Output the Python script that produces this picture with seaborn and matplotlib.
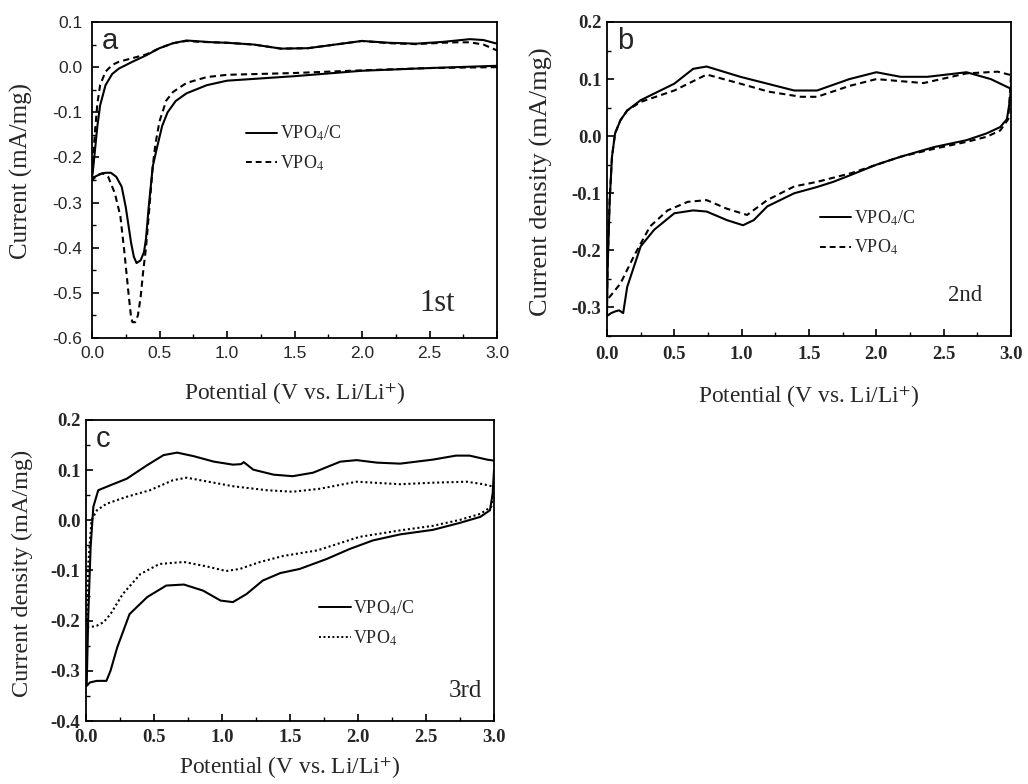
import numpy as np
import pandas as pd
import matplotlib
matplotlib.use("Agg")
import matplotlib.pyplot as plt
import seaborn as sns
from matplotlib.ticker import MultipleLocator, FormatStrFormatter

# ---------------- data ----------------
# Panel a, 1st cycle: closed loop = cathodic (3.0 -> 0) then anodic (0 -> 3.0)
a_c_x = [3.0, 2.5, 2.0, 1.5, 1.0, 0.85, 0.7, 0.62, 0.56, 0.52, 0.48, 0.45, 0.42, 0.40, 0.385, 0.36, 0.33, 0.31,
         0.29, 0.27, 0.25, 0.22, 0.18, 0.14, 0.10, 0.07, 0.04, 0.02, 0.0,
         0.0, 0.01, 0.02, 0.04, 0.06, 0.1, 0.15, 0.2, 0.3, 0.4, 0.5, 0.6, 0.7, 0.8, 0.9, 1.0, 1.2, 1.4,
         1.6, 1.8, 2.0, 2.2, 2.4, 2.6, 2.8, 2.9, 3.0]
a_c_y = [0.003, -0.002, -0.008, -0.02, -0.03, -0.04, -0.058, -0.075, -0.1, -0.13, -0.18, -0.22, -0.31, -0.38,
         -0.41, -0.428, -0.434, -0.42, -0.39, -0.35, -0.31, -0.265, -0.243, -0.234, -0.234, -0.236, -0.24,
         -0.243, -0.245,
         -0.245, -0.22, -0.19, -0.13, -0.085, -0.04, -0.015, -0.003, 0.012, 0.026, 0.042, 0.053, 0.059,
         0.057, 0.055, 0.054, 0.05, 0.041, 0.042, 0.05, 0.058, 0.054, 0.052, 0.056, 0.062, 0.06, 0.052]
a_p_x = [3.0, 2.5, 2.0, 1.5, 1.0, 0.85, 0.7, 0.6, 0.55, 0.5, 0.47, 0.45, 0.42, 0.40, 0.38, 0.36, 0.34,
         0.32, 0.30, 0.29, 0.27, 0.24, 0.21, 0.17, 0.12, 0.08, 0.05, 0.02, 0.0,
         0.0, 0.01, 0.02, 0.04, 0.06, 0.1, 0.15, 0.2, 0.3, 0.4, 0.5, 0.6, 0.7, 0.8, 0.9, 1.0, 1.2, 1.4,
         1.6, 1.8, 2.0, 2.2, 2.4, 2.6, 2.7, 2.8, 2.9, 3.0]
a_p_y = [0.0, -0.002, -0.007, -0.013, -0.017, -0.022, -0.035, -0.055, -0.074, -0.12, -0.17, -0.22, -0.33,
         -0.40, -0.45, -0.51, -0.55, -0.565, -0.565, -0.555, -0.5, -0.41, -0.33, -0.28, -0.243, -0.235,
         -0.238, -0.245, -0.25,
         -0.25, -0.2, -0.15, -0.08, -0.04, -0.01, 0.005, 0.012, 0.02, 0.028, 0.042, 0.053, 0.058, 0.056,
         0.055, 0.054, 0.05, 0.041, 0.042, 0.05, 0.058, 0.053, 0.051, 0.054, 0.055, 0.055, 0.05, 0.037]

# Panel b, 2nd cycle
b_c_x = [3.0, 2.99, 2.97, 2.92, 2.82, 2.67, 2.43, 2.18, 2.0, 1.81, 1.68, 1.56, 1.39, 1.19, 1.09, 1.01,
         0.89, 0.74, 0.64, 0.5, 0.35, 0.25, 0.15, 0.12, 0.09, 0.06, 0.03, 0.0,
         0.0, 0.005, 0.02, 0.037, 0.06, 0.1, 0.15, 0.25, 0.5, 0.64, 0.74, 0.99, 1.19, 1.39, 1.56, 1.8,
         2.0, 2.18, 2.38, 2.67, 2.85, 3.0]
b_c_y = [0.083, 0.06, 0.03, 0.016, 0.005, -0.007, -0.019, -0.036, -0.05, -0.068, -0.08, -0.089, -0.1,
         -0.123, -0.147, -0.156, -0.147, -0.132, -0.13, -0.135, -0.164, -0.193, -0.264, -0.31, -0.305,
         -0.307, -0.31, -0.315,
         -0.315, -0.23, -0.112, -0.036, 0.005, 0.028, 0.045, 0.063, 0.092, 0.118, 0.122, 0.104, 0.092,
         0.08, 0.08, 0.1, 0.112, 0.104, 0.104, 0.112, 0.1, 0.083]
b_p_x = [3.0, 2.98, 2.92, 2.82, 2.67, 2.43, 2.18, 2.0, 1.81, 1.56, 1.39, 1.19, 1.04, 0.89, 0.74, 0.6,
         0.45, 0.32, 0.2, 0.1, 0.025, 0.0,
         0.0, 0.005, 0.02, 0.037, 0.06, 0.1, 0.15, 0.25, 0.5, 0.74, 0.99, 1.2, 1.44, 1.56, 1.8, 2.0,
         2.35, 2.67, 2.9, 3.0]
b_p_y = [0.105, 0.03, 0.01, -0.001, -0.01, -0.022, -0.036, -0.05, -0.065, -0.08, -0.088, -0.112, -0.138,
         -0.127, -0.112, -0.115, -0.13, -0.158, -0.21, -0.258, -0.28, -0.287,
         -0.287, -0.22, -0.11, -0.036, 0.005, 0.028, 0.045, 0.06, 0.08, 0.108, 0.092, 0.078, 0.069,
         0.069, 0.088, 0.1, 0.093, 0.11, 0.113, 0.107]

# Panel c, 3rd cycle
c_c_x = [3.0, 2.99, 2.97, 2.9, 2.75, 2.55, 2.31, 2.11, 1.94, 1.77, 1.57, 1.43, 1.3, 1.18, 1.08, 0.99,
         0.86, 0.72, 0.59, 0.45, 0.32, 0.23, 0.18, 0.15, 0.08, 0.03, 0.005,
         0.005, 0.017, 0.034, 0.054, 0.09, 0.18, 0.3, 0.45, 0.57, 0.67, 0.79, 0.94, 1.08, 1.14, 1.16,
         1.23, 1.38, 1.52, 1.67, 1.87, 1.99, 2.14, 2.31, 2.55, 2.72, 2.82, 2.95, 3.0]
c_c_y = [0.1, 0.053, 0.02, 0.007, -0.005, -0.019, -0.028, -0.04, -0.057, -0.077, -0.097, -0.105, -0.12,
         -0.147, -0.163, -0.16, -0.14, -0.128, -0.13, -0.153, -0.187, -0.253, -0.3, -0.32, -0.32,
         -0.323, -0.33,
         -0.33, -0.187, -0.053, 0.027, 0.06, 0.07, 0.083, 0.11, 0.13, 0.135, 0.128, 0.117, 0.111,
         0.112, 0.116, 0.101, 0.091, 0.088, 0.095, 0.117, 0.12, 0.115, 0.113, 0.121, 0.129, 0.129,
         0.121, 0.119]
c_p_x = [3.0, 2.98, 2.9, 2.75, 2.55, 2.31, 2.01, 1.7, 1.45, 1.28, 1.13, 1.03, 0.89, 0.72, 0.54, 0.4,
         0.27, 0.18, 0.13, 0.08, 0.03, 0.005,
         0.005, 0.017, 0.04, 0.08, 0.15, 0.3, 0.47, 0.64, 0.74, 0.84, 1.08, 1.33, 1.52, 1.72, 1.99,
         2.31, 2.55, 2.8, 2.92, 3.0]
c_p_y = [0.067, 0.027, 0.013, 0.001, -0.011, -0.02, -0.033, -0.06, -0.071, -0.083, -0.097, -0.101,
         -0.092, -0.083, -0.087, -0.107, -0.147, -0.187, -0.203, -0.21, -0.213, -0.213,
         -0.213, -0.087, 0.0, 0.02, 0.033, 0.047, 0.06, 0.08, 0.085, 0.08, 0.068, 0.06, 0.057, 0.063,
         0.077, 0.072, 0.075, 0.077, 0.072, 0.067]

series_labels = ["VPO$_4$/C", "VPO$_4$"]
panel_letters = ["a", "b", "c"]
cycle_labels = ["1st", "2nd", "3rd"]
ylabels = ["Current (mA/mg)", "Current density (mA/mg)", "Current density (mA/mg)"]
xlabel = "Potential (V vs. Li/Li$^{+}$)"

# ---------------- style ----------------
sns.set_style("ticks")
plt.rcParams["font.family"] = ["Liberation Serif", "DejaVu Serif"]
plt.rcParams["mathtext.fontset"] = "stix"
plt.rcParams["axes.unicode_minus"] = False

fig = plt.figure(figsize=(10.28, 7.84), dpi=100)
ax_a = fig.add_axes([92/1028, 1-338/784, 405/1028, 316/784])
ax_b = fig.add_axes([607/1028, 1-336/784, 404/1028, 314/784])
ax_c = fig.add_axes([86/1028, 1-721/784, 408/1028, 301/784])

panels = [
    (ax_a, a_c_x, a_c_y, a_p_x, a_p_y, (-0.6, 0.1), (3, 2)),
    (ax_b, b_c_x, b_c_y, b_p_x, b_p_y, (-0.35, 0.2), (3, 2)),
    (ax_c, c_c_x, c_c_y, c_p_x, c_p_y, (-0.4, 0.2), (1, 1.3)),
]

ylabel_sizes = [18, 19, 17.5]
ylabel_coords = [(-0.146, 0.53), (-0.134, 0.49), (-0.13, 0.49)]

for i, (ax, cx, cy, px, py, ylim, dash2) in enumerate(panels):
    sns.lineplot(x=cx, y=cy, ax=ax, sort=False, estimator=None, color="black", lw=1.5,
                 label=series_labels[0])
    sns.lineplot(x=px, y=py, ax=ax, sort=False, estimator=None, color="black", lw=1.5,
                 dashes=dash2, label=series_labels[1])
    ax.lines[-1].set_dashes(dash2)
    ax.set_xlim(0, 3.0)
    ax.set_ylim(*ylim)
    ax.xaxis.set_major_locator(MultipleLocator(0.5))
    ax.xaxis.set_minor_locator(MultipleLocator(0.25))
    ax.yaxis.set_major_locator(MultipleLocator(0.1))
    ax.yaxis.set_minor_locator(MultipleLocator(0.05))
    ax.tick_params(which="both", direction="in", top=False, right=False, color="black")
    ax.tick_params(which="major", length=5, width=1.2)
    ax.tick_params(which="minor", length=3, width=1.0)
    for sp in ax.spines.values():
        sp.set_visible(True)
        sp.set_linewidth(1.3)
        sp.set_color("black")
    ax.xaxis.set_major_formatter(FormatStrFormatter("%.1f"))
    ax.yaxis.set_major_formatter(FormatStrFormatter("%.1f"))
    if i == 0:
        for lab in ax.get_xticklabels() + ax.get_yticklabels():
            lab.set_fontfamily("Liberation Sans")
            lab.set_fontsize(12.5)
        ax.tick_params(axis="x", which="major", pad=6)
        ax.tick_params(axis="y", which="major", pad=7)
    else:
        for lab in ax.get_xticklabels() + ax.get_yticklabels():
            lab.set_fontfamily("Liberation Serif")
            lab.set_fontweight("bold")
            lab.set_fontsize(13.5)
        ax.tick_params(axis="x", which="major", pad=7 if i == 1 else 6)
        ax.tick_params(axis="y", which="major", pad=4)
    ax.set_ylabel(ylabels[i], fontsize=ylabel_sizes[i])
    ax.yaxis.set_label_coords(*ylabel_coords[i])
    ax.text(0.025, 0.985, panel_letters[i], transform=ax.transAxes, fontsize=21,
            family="Liberation Sans", va="top", ha="left")

# axis labels
ax_a.set_xlabel(xlabel, fontsize=16.8, labelpad=14)
ax_b.set_xlabel(xlabel, fontsize=16.8, labelpad=15)
ax_c.set_xlabel(xlabel, fontsize=16.8, labelpad=6)

# cycle labels
ax_a.text(0.896, 0.11, cycle_labels[0], transform=ax_a.transAxes, fontsize=22, ha="right", va="center")
ax_b.text(0.93, 0.13, cycle_labels[1], transform=ax_b.transAxes, fontsize=16.5, ha="right", va="center")
ax_c.text(0.97, 0.1, cycle_labels[2], transform=ax_c.transAxes, fontsize=18, ha="right", va="center")

# legends
leg_pos = {0: (0.348, 0.717), 1: (0.495, 0.446), 2: (0.54, 0.448)}
for i, ax in enumerate([ax_a, ax_b, ax_c]):
    leg = ax.legend(loc="upper left", bbox_to_anchor=leg_pos[i], frameon=False, fontsize=13,
                    handlelength=1.75, handletextpad=0.15, labelspacing=0.55, borderpad=0.2)
    for h in leg.get_lines():
        h.set_linewidth(1.4)

fig.savefig("out.png", dpi=100, facecolor="white")
